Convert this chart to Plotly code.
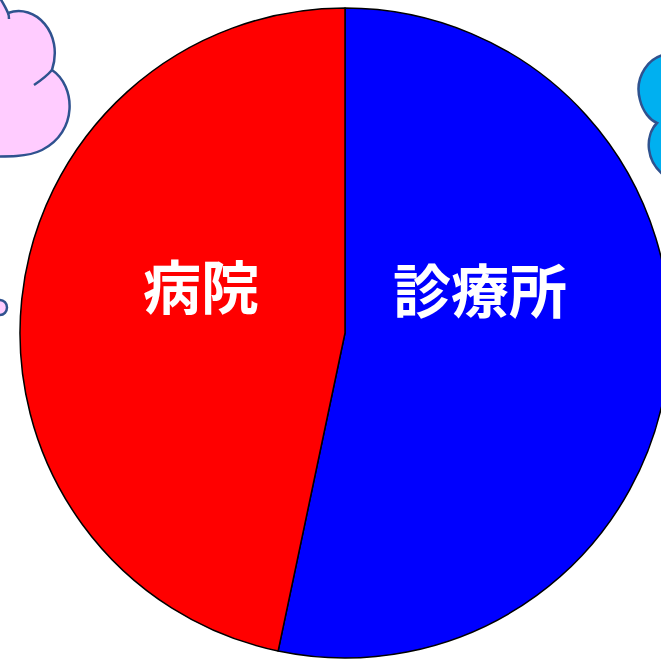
import plotly.graph_objects as go

# Share of medical facilities by type
labels = ["診療所", "病院"]
values = [53.3, 46.7]
colors = ["#0000FF", "#FF0000"]

# Label anchor points in canvas pixels (x from left, y from top)
label_pos = [(480, 288), (201, 284)]

W, H = 690, 664
cx, cy, r = 345, 333, 325

fig = go.Figure()

fig.add_trace(go.Pie(
    labels=labels,
    values=values,
    sort=False,
    direction="clockwise",
    rotation=0,
    marker=dict(colors=colors, line=dict(color="#000000", width=1.5)),
    textinfo="none",
    hoverinfo="label+percent",
    showlegend=False,
    domain=dict(x=[(cx - r) / W, (cx + r) / W], y=[(H - cy - r) / H, (H - cy + r) / H]),
))

# Invisible overlay axes in pixel units for the decorations
fig.add_trace(go.Scatter(x=[0], y=[0], mode="markers", marker=dict(opacity=0),
                         hoverinfo="skip", showlegend=False))

outline = "#2F528F"
shapes = [
    # pink cloud, upper left
    dict(type="path",
         path="M -30,-30 L 0,-2 C 3,3 6,8 8,13 C 35,3 64,33 52,70 "
              "C 76,86 78,132 42,150 C 28,157 12,157 -30,156 Z",
         fillcolor="#FFCCFF", line=dict(color=outline, width=2.5)),
    dict(type="path", path="M 8,13 C 9,15 9,17 9,19",
         line=dict(color=outline, width=2.5)),
    dict(type="path", path="M 52,70 C 46,77 40,81 34,85",
         line=dict(color=outline, width=2.5)),
    # small bubble
    dict(type="circle", x0=-7, y0=300, x1=7, y1=315,
         fillcolor="#FFCCFF", line=dict(color=outline, width=2.5)),
    # cyan cloud, right edge
    dict(type="path",
         path="M 700,54 L 672,54 C 648,54 634,78 640,100 C 643,112 650,120 657,123 "
              "C 645,135 644,163 668,178 L 700,178 Z",
         fillcolor="#00B0F0", line=dict(color=outline, width=2.5)),
]

annotations = [
    dict(x=px, y=py, xref="x", yref="y", text=lab, showarrow=False,
         font=dict(family="Noto Sans CJK JP", size=58, color="#FFFFFF", weight="bold"),
         xanchor="center", yanchor="middle")
    for lab, (px, py) in zip(labels, label_pos)
]

fig.update_layout(
    width=W, height=H, autosize=False,
    margin=dict(l=0, r=0, t=0, b=0, pad=0),
    paper_bgcolor="#FFFFFF", plot_bgcolor="rgba(0,0,0,0)",
    xaxis=dict(range=[0, W], visible=False, fixedrange=True),
    yaxis=dict(range=[H, 0], visible=False, fixedrange=True),
    shapes=shapes,
    annotations=annotations,
)

fig.write_html("out.html")
